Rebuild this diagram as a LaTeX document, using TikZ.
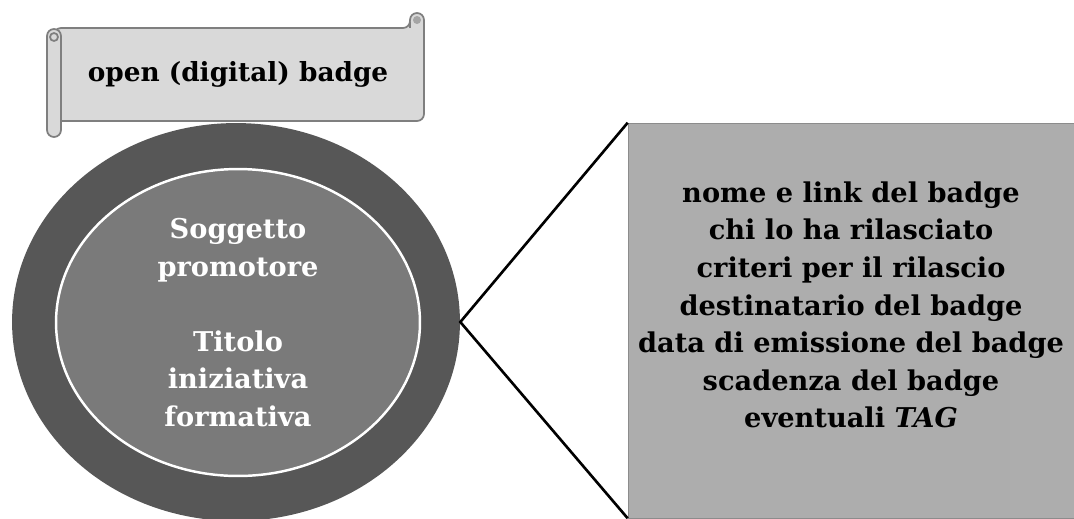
\documentclass[tikz,border=0pt]{standalone}
\usepackage{fontspec}
\setmainfont{DejaVu Serif}
\usetikzlibrary{shapes, positioning}

\definecolor{ringgray}{HTML}{575757}
\definecolor{coregray}{HTML}{7A7A7A}
\definecolor{boxgray}{HTML}{ADADAD}
\definecolor{boxline}{HTML}{8C8C8C}
\definecolor{scrollfill}{HTML}{D9D9D9}
\definecolor{scrollline}{HTML}{7F7F7F}

\begin{document}
\begin{tikzpicture}[x=0.02cm, y=-0.02cm,
	scrollpart/.style={draw=scrollline, fill=scrollfill, line width=1pt},
	bigtext/.style={font=\bfseries\fontsize{15.5}{21.4}\selectfont, align=center}]
	\useasboundingbox (0,0) rectangle (1074,518);

	% scroll banner
	\path[scrollpart, rounded corners=4pt] (54,28) -- (410,28) -- (410,13) -- (424,13)
		-- (424,121) -- (54,121) -- cycle;
	\draw[scrollline, line width=1pt] (410,28) -- (410,22);
	\fill[scrollline!70] (417,20) circle (4);
	\path[scrollpart, rounded corners=4pt] (47,29) rectangle (61,137);
	\draw[scrollline, line width=1pt] (54,37) circle (4);
	\node (title) at (238,74) [bigtext, font=\bfseries\fontsize{15}{20}\selectfont] {open (digital) badge};

	% badge circles
	\node (ring) at (236,322) [ellipse, fill=ringgray, inner sep=0pt,
		minimum width=8.96cm, minimum height=7.96cm] {};
	\node (core) at (238,322.5) [ellipse, fill=coregray, draw=white, line width=1.4pt,
		inner sep=0pt, minimum width=7.28cm, minimum height=6.14cm,
		bigtext, text=white] {Soggetto\\promotore\\[21.4pt]Titolo\\iniziativa\\formativa};

	% metadata box
	\node (info) at (851,320.5) [draw=boxline, fill=boxgray, rectangle, inner sep=0pt,
		minimum width=8.92cm, minimum height=7.9cm] {};
	\node (fields) at (851,305) [bigtext] {nome e link del badge\\chi lo ha rilasciato\\
		criteri per il rilascio\\destinatario del badge\\data di emissione del badge\\
		scadenza del badge\\eventuali \textit{TAG}};

	\draw [line width=1.5pt] (info.north west) -- (ring.east) -- (info.south west);
\end{tikzpicture}
\end{document}
